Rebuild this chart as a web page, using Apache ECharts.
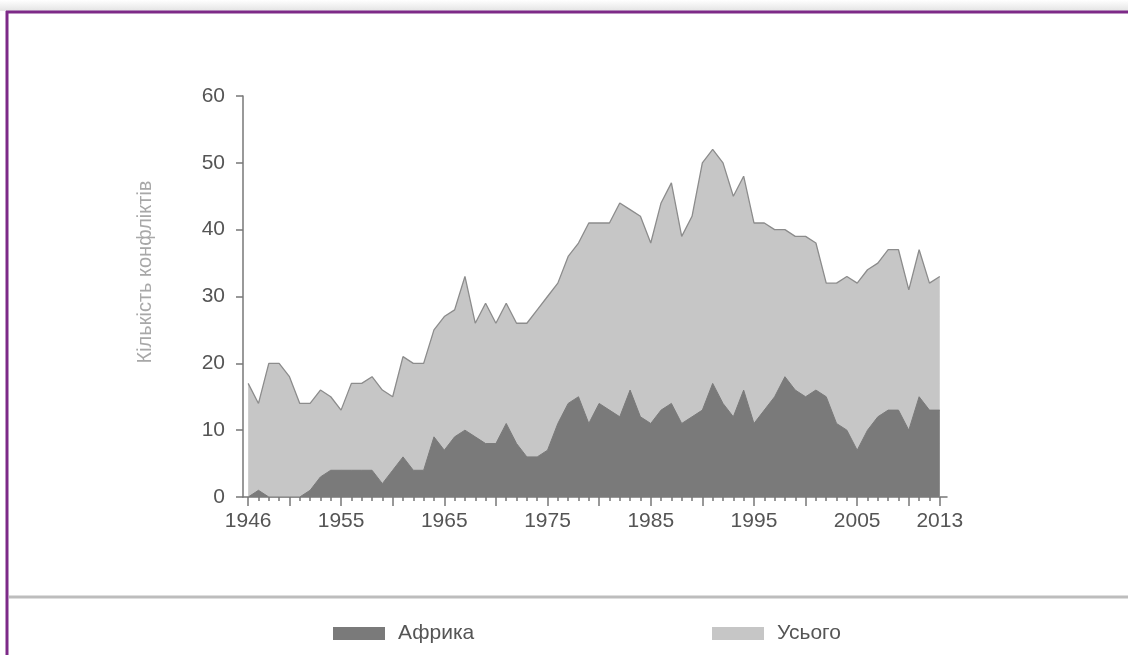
<!DOCTYPE html>
<html>
<head>
<meta charset="utf-8">
<script src="https://cdn.jsdelivr.net/npm/echarts@6/dist/echarts.min.js"></script>
<style>
html,body{margin:0;padding:0;background:#fff}
#main{width:1128px;height:655px}
</style>
</head>
<body>
<div id="main"></div>
<script>
const years = [1946,1947,1948,1949,1950,1951,1952,1953,1954,1955,
  1956,1957,1958,1959,1960,1961,1962,1963,1964,1965,
  1966,1967,1968,1969,1970,1971,1972,1973,1974,1975,
  1976,1977,1978,1979,1980,1981,1982,1983,1984,1985,
  1986,1987,1988,1989,1990,1991,1992,1993,1994,1995,
  1996,1997,1998,1999,2000,2001,2002,2003,2004,2005,
  2006,2007,2008,2009,2010,2011,2012,2013];
const totalCounts = [17,14,20,20,18,14,14,16,15,13,
  17,17,18,16,15,21,20,20,25,27,
  28,33,26,29,26,29,26,26,28,30,
  32,36,38,41,41,41,44,43,42,38,
  44,47,39,42,50,52,50,45,48,41,
  41,40,40,39,39,38,32,32,33,32,
  34,35,37,37,31,37,32,33];
const africaCounts = [0,1,0,0,0,0,1,3,4,4,
  4,4,4,2,4,6,4,4,9,7,
  9,10,9,8,8,11,8,6,6,7,
  11,14,15,11,14,13,12,16,12,11,
  13,14,11,12,13,17,14,12,16,11,
  13,15,18,16,15,16,15,11,10,7,
  10,12,13,13,10,15,13,13];
const yearLabels = [1946,1955,1965,1975,1985,1995,2005,2013];
const majorTicks = [1946,1950,1955,1960,1965,1970,1975,1980,1985,1990,1995,2000,2005,2010,2013];
const seriesNames = ['Африка','Усього'];

let chartDom = document.getElementById('main');
let myChart = echarts.init(chartDom);

const axisColor = '#777';
const fontFamily = 'Liberation Sans, Arial, sans-serif';
const labelFont = {fontSize: 21, color: '#555', fontFamily: fontFamily};
const legendText = {fontSize: 21, color: '#555', fontFamily: fontFamily, padding: [0, 0, 0, 8]};

let option = {
  animation: false,
  grid: {left: 243, right: 181, top: 96, bottom: 158},
  xAxis: [
    {
      type: 'value',
      min: 1945.5,
      max: 2013.7,
      position: 'bottom',
      splitLine: {show: false},
      axisLine: {show: true, lineStyle: {color: axisColor, width: 1.5}},
      axisTick: {show: true, customValues: years, length: 4, lineStyle: {color: axisColor, width: 1.5}},
      axisLabel: Object.assign({customValues: yearLabels, margin: 14, formatter: v => String(v)}, labelFont)
    },
    {
      type: 'value',
      min: 1945.5,
      max: 2013.7,
      position: 'bottom',
      splitLine: {show: false},
      axisLine: {show: false},
      axisTick: {show: true, customValues: majorTicks, length: 9, lineStyle: {color: axisColor, width: 1.5}},
      axisLabel: {show: false}
    }
  ],
  yAxis: {
    type: 'value',
    min: 0,
    max: 60,
    interval: 10,
    splitLine: {show: false},
    axisLine: {show: true, lineStyle: {color: axisColor, width: 1.5}},
    axisTick: {show: true, length: 7, lineStyle: {color: axisColor, width: 1.5}},
    axisLabel: Object.assign({margin: 18}, labelFont)
  },
  legend: [
    {
      data: [seriesNames[0]], left: 328, top: 618, icon: 'rect',
      itemWidth: 52, itemHeight: 13, textStyle: legendText
    },
    {
      data: [seriesNames[1]], left: 707, top: 618, icon: 'rect',
      itemWidth: 52, itemHeight: 13, textStyle: legendText
    }
  ],
  series: [
    {
      name: seriesNames[1],
      type: 'line',
      showSymbol: false,
      z: 1,
      data: years.map((y, i) => [y, totalCounts[i]]),
      itemStyle: {color: '#c6c6c6', borderColor: '#999'},
      lineStyle: {color: '#8c8c8c', width: 1.3},
      areaStyle: {color: '#c6c6c6', opacity: 1}
    },
    {
      name: seriesNames[0],
      type: 'line',
      showSymbol: false,
      z: 2,
      data: years.map((y, i) => [y, africaCounts[i]]),
      itemStyle: {color: '#7a7a7a', borderColor: '#666'},
      lineStyle: {color: '#7a7a7a', width: 1},
      areaStyle: {color: '#7a7a7a', opacity: 1}
    }
  ],
  graphic: [
    {
      type: 'rect', shape: {x: 0, y: 0, width: 1128, height: 11}, silent: true,
      style: {fill: new echarts.graphic.LinearGradient(0, 0, 0, 1, [{offset: 0, color: '#ffffff'}, {offset: 1, color: '#e4e4e4'}])}
    },
    {type: 'line', shape: {x1: 6, y1: 12, x2: 1128, y2: 12}, style: {stroke: '#7d2a88', lineWidth: 3}, silent: true},
    {type: 'line', shape: {x1: 7, y1: 11, x2: 7, y2: 655}, style: {stroke: '#7d2a88', lineWidth: 3}, silent: true},
    {type: 'line', shape: {x1: 9, y1: 597, x2: 1128, y2: 597}, style: {stroke: '#bdbdbd', lineWidth: 3}, silent: true},
    {
      type: 'text', x: 145, y: 272, rotation: Math.PI / 2, silent: true,
      style: {text: 'Кількість конфліктів', fill: '#a8a8a8', fontSize: 20, fontFamily: fontFamily, align: 'center', verticalAlign: 'middle'}
    }
  ]
};
myChart.setOption(option);

window.addEventListener('resize', function () {
  myChart.resize();
});
</script>
</body>
</html>
